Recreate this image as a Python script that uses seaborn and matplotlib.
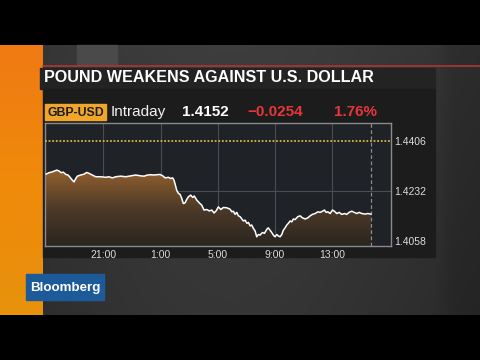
import numpy as np
import pandas as pd
import matplotlib
matplotlib.use("Agg")
import matplotlib.pyplot as plt
import seaborn as sns
from matplotlib.patches import Rectangle, PathPatch
from matplotlib.colors import LinearSegmentedColormap

# ---- data (hours since 17:00 previous day, GBP-USD price) ----
hours = [0.00, 0.21, 0.44, 0.75, 0.91, 1.07, 1.21, 1.38, 1.54, 1.68, 1.84, 1.96,
         2.08, 2.19, 2.42, 2.66, 2.84, 3.00, 3.24, 3.47, 3.82, 4.17, 4.40, 4.63,
         4.87, 5.22, 5.57, 5.92, 6.27, 6.62, 6.85, 7.08, 7.32,
         7.50, 7.74, 7.97, 8.16, 8.32, 8.55, 8.71, 8.85, 8.94, 9.04, 9.13, 9.25,
         9.36, 9.48, 9.59, 9.71, 9.83, 9.94, 10.11, 10.25, 10.36, 10.53, 10.71,
         10.88, 11.04, 11.23, 11.41, 11.58, 11.74, 11.88, 12.04, 12.21, 12.39, 12.63,
         12.86, 12.98, 13.09, 13.21, 13.33, 13.44, 13.56, 13.68, 13.79, 13.91, 14.03,
         14.14, 14.26, 14.37, 14.49, 14.61, 14.72, 14.84, 14.95, 15.12, 15.26, 15.42,
         15.53, 15.65, 15.77, 15.88, 16.00, 16.12, 16.23, 16.35, 16.47, 16.58, 16.70,
         16.82, 16.93, 17.05, 17.17, 17.28,
         17.40, 17.59, 17.75, 17.91, 18.10, 18.29, 18.45, 18.61, 18.80, 18.99, 19.15,
         19.31, 19.45, 19.57, 19.69, 19.85, 20.01, 20.15, 20.31, 20.48, 20.66, 20.85,
         21.01, 21.17, 21.36, 21.54, 21.71, 21.87, 22.06, 22.29, 22.48, 22.71]
prices = [1.4291, 1.4296, 1.4299, 1.4305, 1.4302, 1.4296, 1.4298, 1.4290, 1.4288,
          1.4280, 1.4270, 1.4264, 1.4276, 1.4284, 1.4288, 1.4291, 1.4297, 1.4294,
          1.4288, 1.4282, 1.4282, 1.4280, 1.4282, 1.4278, 1.4282, 1.4284, 1.4282,
          1.4285, 1.4288, 1.4285, 1.4284, 1.4288, 1.4289,
          1.4288, 1.4289, 1.4290, 1.4285, 1.4278, 1.4280, 1.4276, 1.4278, 1.4270,
          1.4253, 1.4235, 1.4224, 1.4221, 1.4207, 1.4189, 1.4191, 1.4203, 1.4212,
          1.4218, 1.4210, 1.4215, 1.4201, 1.4191, 1.4183, 1.4166, 1.4168, 1.4163,
          1.4166, 1.4156, 1.4163, 1.4177, 1.4168, 1.4175, 1.4174,
          1.4169, 1.4160, 1.4162, 1.4151, 1.4158, 1.4146, 1.4143, 1.4135, 1.4128,
          1.4131, 1.4120, 1.4123, 1.4111, 1.4114, 1.4102, 1.4093, 1.4073, 1.4081,
          1.4079, 1.4088, 1.4085, 1.4099, 1.4104, 1.4096, 1.4088, 1.4079, 1.4073,
          1.4081, 1.4076, 1.4073, 1.4081, 1.4096, 1.4104, 1.4114, 1.4120, 1.4128,
          1.4125, 1.4135,
          1.4133, 1.4143, 1.4146, 1.4139, 1.4135, 1.4139, 1.4146, 1.4151, 1.4154,
          1.4160, 1.4158, 1.4162, 1.4166, 1.4158, 1.4160, 1.4154, 1.4166, 1.4162,
          1.4154, 1.4158, 1.4151, 1.4154, 1.4151, 1.4158, 1.4162, 1.4158, 1.4154,
          1.4158, 1.4154, 1.4152, 1.4154, 1.4152]
prev_close = 1.4406
last_price = "1.4152"
change = "\u22120.0254"
pct_change = "1.76%"
ticker = "GBP-USD"
period = "Intraday"
title = "POUND WEAKENS AGAINST U.S. DOLLAR"
y_ticks = [1.4058, 1.4232, 1.4406]
x_tick_pos = [4, 8, 12, 16, 20]
x_tick_labels = ["21:00", "1:00", "5:00", "9:00", "13:00"]
y_min, y_max = 1.4041, 1.4469
x_min, x_max = -0.07, 24.10

df = pd.DataFrame({"hour": hours, "price": prices})

sns.set_style("dark")
plt.rcParams['font.family'] = ['Liberation Sans', 'DejaVu Sans']

fig = plt.figure(figsize=(4.8, 3.6), dpi=100)
fig.patch.set_facecolor('black')

# ---- background / decoration layer ----
bg = fig.add_axes([0, 0, 1, 1])
bg.set_xlim(0, 480)
bg.set_ylim(360, 0)
bg.axis('off')

gx = np.linspace(0, 480, 240)
gy = np.linspace(45, 315, 135)
X, Y = np.meshgrid(gx, gy)
v = 0.15 + 0.06 * np.exp(-((X - 230) / 230) ** 2) + 0.03 * (1 - (Y - 45) / 270)
v = v - 0.025 / (1 + np.exp(-(X - 445) / 4))
img = np.dstack([v, v, v])
bg.imshow(np.clip(img, 0, 1), extent=(0, 480, 315, 45), aspect='auto', zorder=0)
bg.add_patch(Rectangle((77, 45), 40, 20, color='#4a4a4a', zorder=1))

# orange strip
ocm = LinearSegmentedColormap.from_list("o", ["#ef7a14", "#f08a0a", "#e8920c"])
bg.imshow(np.linspace(0, 1, 100).reshape(-1, 1), cmap=ocm,
          extent=(0, 43, 315, 45), aspect='auto', zorder=1)

bg.plot([43, 480], [66, 66], color='#a83434', lw=1.3, zorder=2)
bg.add_patch(Rectangle((40, 67.5), 395, 21, color='#232323', zorder=2))
bg.text(44, 78, title, fontsize=11.6, fontweight='bold', color='white',
        va='center', ha='left', zorder=3)
bg.add_patch(Rectangle((43, 88.5), 392, 168, color='#1c1c1c', zorder=2))

# header row
bg.add_patch(Rectangle((45, 104), 61, 16, color='#f0a628', zorder=3))
bg.text(75.5, 112.5, ticker, fontsize=8.8, fontweight='bold', color='#1c1c1c',
        va='center', ha='center', zorder=4)
bg.text(111, 112, period, fontsize=11, color='#f2f2f2', va='center', ha='left', zorder=4)
bg.text(182, 112.5, last_price, fontsize=11, fontweight='bold', color='white',
        va='center', ha='left', zorder=4)
bg.text(247, 112.5, change, fontsize=11, fontweight='bold', color='#e6363c',
        va='center', ha='left', zorder=4)
bg.text(334, 112.5, pct_change, fontsize=11, fontweight='bold', color='#e6363c',
        va='center', ha='left', zorder=4)

# Bloomberg logo
bg.add_patch(Rectangle((26, 274), 78, 26, color='#1d5a9a', zorder=3))
bg.text(65, 287.5, "Bloomberg", fontsize=9.6, fontweight='bold', color='white',
        va='center', ha='center', zorder=4)

# ---- chart ----
ax = fig.add_axes([45 / 480, 1 - 246 / 360, 346 / 480, 123 / 360])
ax.set_facecolor('#1f2226')
ax.set_xlim(x_min, x_max)
ax.set_ylim(y_min, y_max)

for xt in x_tick_pos:
    ax.axvline(xt, color='#4a4e54', lw=0.8, zorder=1)
ax.axhline(y_ticks[1], color='#4a4e54', lw=0.8, zorder=1)

fill = ax.fill_between(df["hour"], df["price"], y_min, color='none', lw=0)
path = fill.get_paths()[0]
patch = PathPatch(path, transform=ax.transData, facecolor='none', edgecolor='none')
ax.add_patch(patch)
fcm = LinearSegmentedColormap.from_list("f", ["#2a2520", "#4e3a28", "#93602e"])
top = max(prices)
im = ax.imshow(np.linspace(0, 1, 200).reshape(-1, 1), cmap=fcm, origin='lower',
               extent=(x_min, x_max, y_min, top), aspect='auto', zorder=2)
im.set_clip_path(patch)

sns.lineplot(data=df, x="hour", y="price", ax=ax, color='white', lw=1.1, zorder=4)

ax.axvline(hours[-1], color='#8c8c8c', lw=0.9, ls=(0, (3, 2)), zorder=3)
ax.axhline(prev_close, color='#d9b44a', lw=1.3, ls=(0, (1, 1)), zorder=3)

ax.set_xlim(x_min, x_max)
ax.set_ylim(y_min, y_max)
ax.set_xticks(x_tick_pos)
ax.set_xticklabels(x_tick_labels)
ax.set_yticks(y_ticks)
ax.set_yticklabels([f"{t:.4f}" for t in y_ticks])
ax.yaxis.tick_right()
ax.tick_params(axis='both', length=0, labelsize=7.5, colors='#dcdcdc')
ax.tick_params(axis='y', pad=2)
ax.tick_params(axis='x', pad=3)
ax.set_xlabel("")
ax.set_ylabel("")
ax.grid(False)
for s in ax.spines.values():
    s.set_visible(True)
    s.set_color('#8a8a8a')
    s.set_linewidth(1.0)

fig.savefig("out.png", dpi=100)
